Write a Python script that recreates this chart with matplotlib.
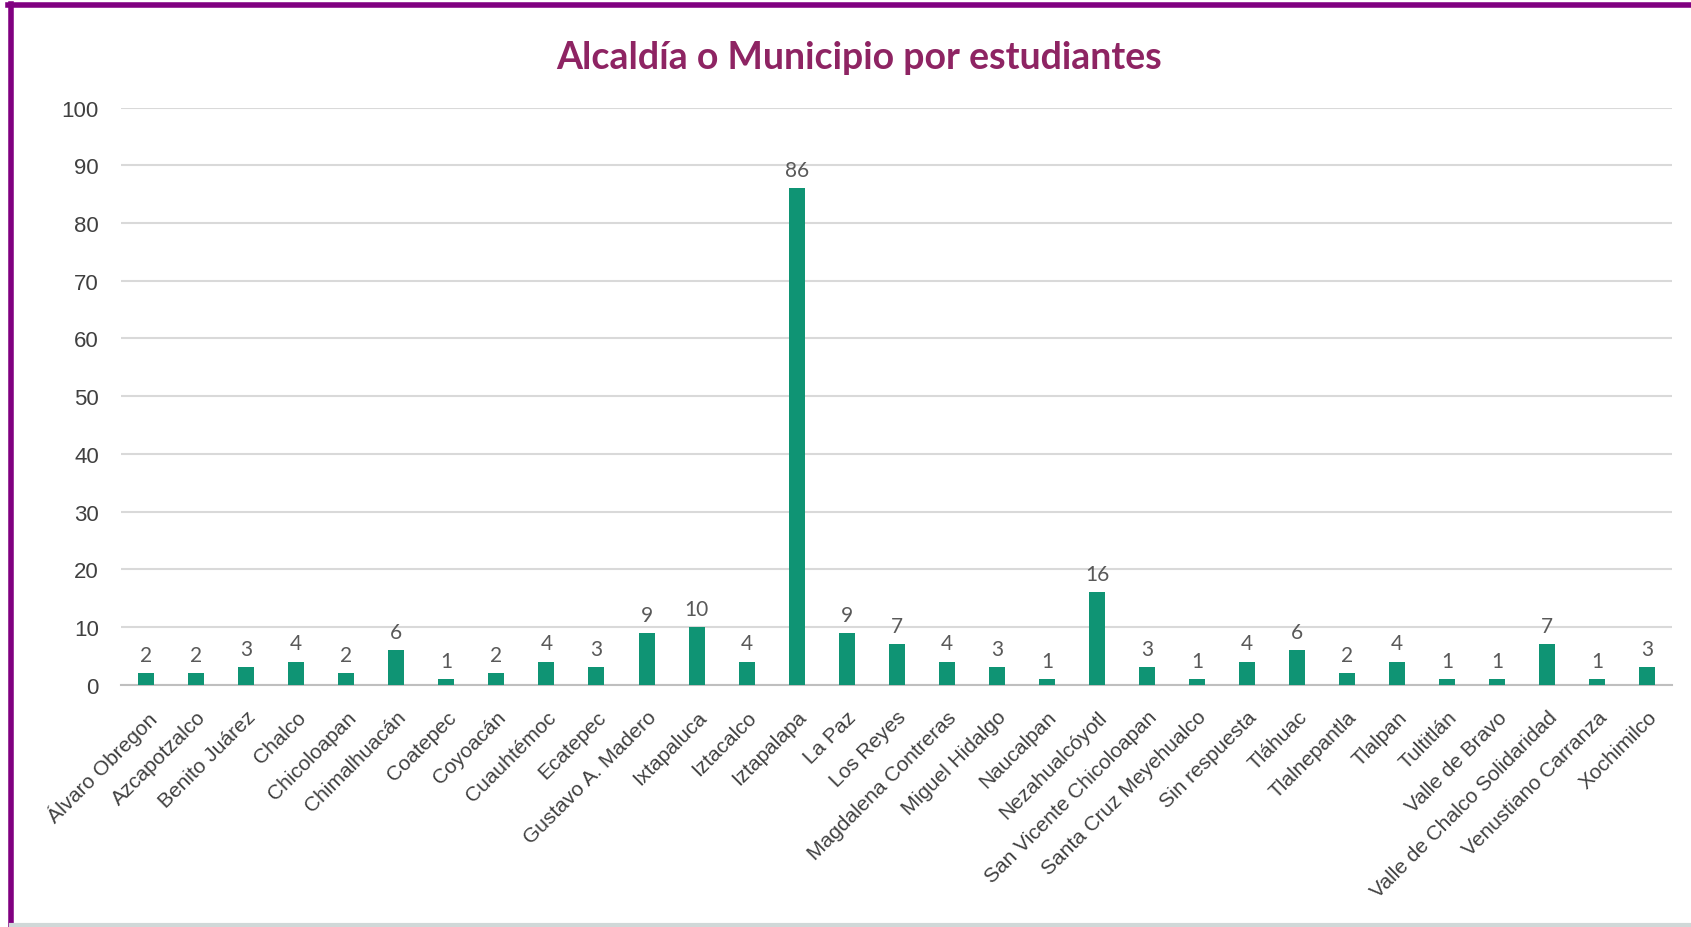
import matplotlib.pyplot as plt
from matplotlib.lines import Line2D

# data
municipios = ['Álvaro Obregon', 'Azcapotzalco', 'Benito Juárez', 'Chalco', 'Chicoloapan',
              'Chimalhuacán', 'Coatepec', 'Coyoacán', 'Cuauhtémoc', 'Ecatepec',
              'Gustavo A. Madero', 'Ixtapaluca', 'Iztacalco', 'Iztapalapa', 'La Paz',
              'Los Reyes', 'Magdalena Contreras', 'Miguel Hidalgo', 'Naucalpan',
              'Nezahualcóyotl', 'San Vicente Chicoloapan', 'Santa Cruz Meyehualco',
              'Sin respuesta', 'Tláhuac', 'Tlalnepantla', 'Tlalpan', 'Tultitlán',
              'Valle de Bravo', 'Valle de Chalco Solidaridad', 'Venustiano Carranza',
              'Xochimilco']
estudiantes = [2, 2, 3, 4, 2, 6, 1, 2, 4, 3, 9, 10, 4, 86, 9, 7, 4, 3, 1, 16,
               3, 1, 4, 6, 2, 4, 1, 1, 7, 1, 3]
y_ticks = [0, 10, 20, 30, 40, 50, 60, 70, 80, 90, 100]

bar_color = '#0f9474'
title_color = '#8e2463'
frame_color = '#800080'

fig = plt.figure(figsize=(16.91, 9.28), dpi=100)
ax = fig.add_axes([0.0716, 0.261, 0.9174, 0.622])

x = range(len(municipios))
bars = ax.bar(x, estudiantes, width=0.32, color=bar_color, zorder=3)
ax.bar_label(bars, padding=6, fontsize=15, color='#595959', family='Lato')

ax.set_xlim(-0.5, len(municipios) - 0.5)
ax.set_ylim(0, 100)
ax.set_yticks(y_ticks)
ax.set_xticks(list(x))
ax.set_xticklabels(municipios, rotation=45, ha='right', rotation_mode='anchor',
                   fontsize=15, color='#404040', family='Liberation Sans')
ax.tick_params(axis='y', labelsize=16, labelcolor='#404040', length=0, pad=16)
for lbl in ax.get_yticklabels():
    lbl.set_family('Liberation Sans')
ax.tick_params(axis='x', length=0, pad=16)

ax.grid(axis='y', color='#d9d9d9', linewidth=1.5, zorder=0)
for s in ['top', 'right', 'left']:
    ax.spines[s].set_visible(False)
ax.spines['bottom'].set_color('#bfbfbf')
ax.spines['bottom'].set_linewidth(1.5)

fig.text(0.508, 0.937, 'Alcaldía o Municipio por estudiantes', ha='center', va='center',
         fontsize=27, fontweight='bold', color=title_color, family='Lato')

# purple frame on left and top, light line at bottom
fig.add_artist(Line2D([0.0065, 0.0065], [0.0, 0.995], transform=fig.transFigure,
                      color=frame_color, linewidth=4))
fig.add_artist(Line2D([0.0045, 1.0], [0.993, 0.993], transform=fig.transFigure,
                      color=frame_color, linewidth=4))
fig.add_artist(Line2D([0.0065, 1.0], [0.002, 0.002], transform=fig.transFigure,
                      color='#d0d8d8', linewidth=3))

fig.savefig('out.png', dpi=100)
